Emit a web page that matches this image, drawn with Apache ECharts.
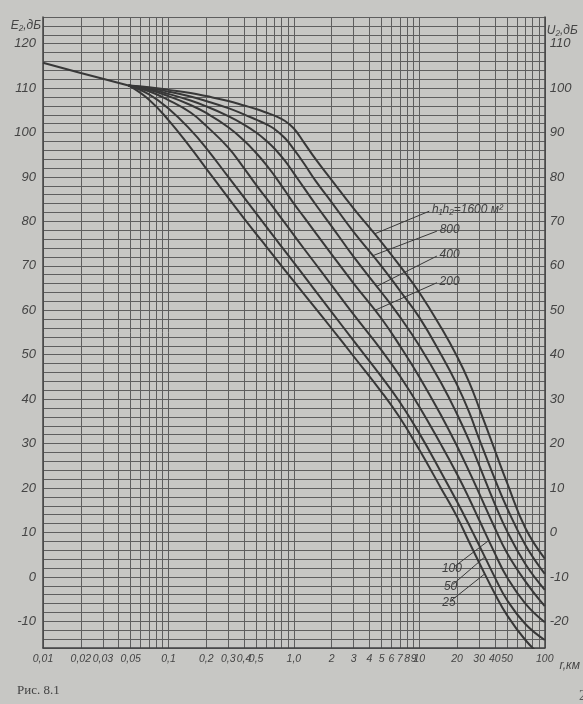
<!DOCTYPE html>
<html>
<head>
<meta charset="utf-8">
<script src="https://cdn.jsdelivr.net/npm/echarts@6.0.0/dist/echarts.min.js"></script>
<style>
  html, body { margin: 0; padding: 0; background: #c7c7c4; }
  #chart { width: 583px; height: 704px; }
</style>
</head>
<body>
<div id="chart"></div>
<script>
// common part of all curves (r, km -> E2, dB)
var commonDist = [0.01, 0.02, 0.03, 0.048]
var commonE = [115.7, 113.4, 112.1, 110.6]

// distances for the branches, km
var dist = [0.048, 0.07, 0.1, 0.15, 0.2, 0.3, 0.4, 0.5, 0.6, 0.7, 0.85, 1, 1.2, 1.5, 2, 3, 5, 7, 10, 15, 20, 25, 30, 40, 50, 70, 100]

// E2, dB for h1*h2 = 1600 ... 25 m2
var e1600 = [110.6, 110.2, 109.6, 108.9, 108.2, 107.1, 106.1, 105.3, 104.5, 103.8, 102.6, 100.9, 97.8, 93.9, 89.3, 82.9, 75.3, 70.0, 64.0, 56.0, 49.6, 43.8, 38.0, 28.5, 21.2, 11.0, 4.1]
var e800 = [110.6, 110.0, 109.2, 108.1, 107.1, 105.5, 104.1, 102.9, 101.9, 100.8, 98.7, 96.2, 93.1, 89.0, 84.3, 77.6, 69.9, 64.4, 58.4, 49.9, 43.2, 37.0, 31.0, 22.0, 15.5, 7.2, 0.7]
var e400 = [110.6, 109.8, 108.7, 107.2, 105.9, 103.7, 101.8, 100.0, 98.2, 96.4, 93.6, 90.8, 87.6, 83.7, 78.9, 72.0, 64.0, 58.5, 52.0, 43.5, 36.6, 30.6, 25.1, 16.4, 10.3, 2.9, -2.9]
var e200 = [110.6, 109.6, 108.2, 106.2, 104.4, 101.2, 98.2, 95.4, 92.8, 90.3, 86.9, 84.0, 81.0, 77.3, 72.6, 66.0, 58.1, 52.0, 45.0, 36.2, 29.4, 23.7, 18.8, 11.0, 5.4, -1.0, -6.6]
var e100 = [110.6, 109.3, 107.3, 104.5, 101.5, 96.6, 92.0, 88.2, 85.3, 82.8, 79.6, 76.9, 73.9, 70.3, 65.6, 59.0, 51.0, 45.2, 38.3, 29.6, 23.1, 17.6, 12.8, 5.3, -0.1, -6.0, -10.2]
var e50 = [110.6, 108.6, 105.4, 100.6, 96.5, 90.0, 85.4, 81.8, 78.9, 76.4, 73.3, 70.7, 67.8, 64.2, 59.6, 53.1, 45.0, 39.3, 32.3, 23.4, 16.9, 11.6, 7.1, -0.1, -5.2, -10.6, -14.2]
var e25 = [110.6, 107.4, 102.8, 96.6, 91.9, 85.3, 80.7, 77.2, 74.4, 72.0, 69.0, 66.5, 63.7, 60.3, 55.9, 49.6, 41.6, 35.8, 28.6, 19.8, 13.5, 7.8, 3.2, -3.8, -8.6, -14.2, -18.6]

var curveNames = ['h₁h₂=1600 м²', '800', '400', '200', '100', '50', '25']
// leader lines: point on the curve -> point at the label
var leaderFrom = [[4.4, 77.2], [4.27, 72.3], [4.58, 65.4], [4.43, 60.0], [35.8, 8.2], [33.3, 4.5], [33.3, 0.7]]
var leaderTo = [[12.0, 82.3], [13.8, 77.8], [13.8, 72.2], [13.8, 66.2], [19.0, 2.3], [18.5, -1.7], [18.0, -5.3]]

// grid lines and labels of the distance axis
var xGridValues = [0.01, 0.02, 0.03, 0.04, 0.05, 0.06, 0.07, 0.08, 0.09,
  0.1, 0.2, 0.3, 0.4, 0.5, 0.6, 0.7, 0.8, 0.9,
  1, 2, 3, 4, 5, 6, 7, 8, 9,
  10, 20, 30, 40, 50, 60, 70, 80, 90, 100]
var xLabelValues = [0.01, 0.02, 0.03, 0.05, 0.1, 0.2, 0.3, 0.4, 0.5, 1, 2, 3, 4, 5, 6, 7, 8, 9, 10, 20, 30, 40, 50, 100]

var curves = [e1600, e800, e400, e200, e100, e50, e25]

var font = '"Liberation Sans Narrow", "Liberation Sans", Arial, sans-serif'
var ink = '#383838'
var gridInk = '#5e5e5e'

var chart = echarts.init(document.getElementById('chart'))

var series = [{
  type: 'line',
  data: commonDist.map(function (d, i) { return [d, commonE[i]] }),
  showSymbol: false,
  lineStyle: { color: ink, width: 2 }
}]

curves.forEach(function (vals, i) {
  series.push({
    type: 'line',
    name: curveNames[i],
    data: dist.map(function (d, j) { return [d, vals[j]] }),
    showSymbol: false,
    smooth: 0.45,
    clip: true,
    lineStyle: { color: ink, width: 2 },
    markLine: {
      silent: true,
      symbol: ['none', 'none'],
      animation: false,
      lineStyle: { color: ink, width: 1, type: 'solid' },
      label: {
        show: true,
        position: 'end',
        distance: 3,
        formatter: curveNames[i],
        color: '#404040',
        fontStyle: 'italic',
        fontFamily: font,
        fontSize: 12
      },
      data: [[{ coord: leaderFrom[i] }, { coord: leaderTo[i] }]]
    }
  })
})

chart.setOption({
  animation: false,
  backgroundColor: '#c7c7c4',
  title: [{
    text: 'Рис. 8.1',
    left: 12,
    top: 679,
    textStyle: { fontFamily: '"Liberation Serif", serif', fontSize: 13, fontWeight: 'normal', color: '#444' }
  }, {
    text: '27',
    left: 574,
    top: 684,
    textStyle: { fontFamily: '"Liberation Serif", serif', fontSize: 14, fontWeight: 'normal', color: '#555' }
  }],
  grid: { left: 43, right: 32, top: 17, bottom: 56 },
  xAxis: {
    type: 'log',
    logBase: 10,
    min: 0.01,
    max: 100,
    name: 'r,км',
    nameLocation: 'end',
    nameGap: 9,
    nameTextStyle: { color: '#444', fontStyle: 'italic', fontFamily: font, fontSize: 12, verticalAlign: 'top', padding: [12, 0, 0, 0] },
    axisLine: { show: true, onZero: false, lineStyle: { color: '#444', width: 1.5 } },
    axisTick: { show: false, customValues: xGridValues },
    splitLine: { show: true, lineStyle: { color: gridInk, width: 1 } },
    axisLabel: {
      customValues: xLabelValues,
      margin: 6,
      color: '#444',
      fontStyle: 'italic',
      fontFamily: font,
      fontSize: 10.5,
      formatter: function (v) {
        if (v < 1) return String(v).replace('.', ',')
        if (v === 1) return '1,0'
        return String(v)
      }
    }
  },
  yAxis: [{
    type: 'value',
    min: -16,
    max: 126,
    interval: 2,
    name: 'E₂,дБ',
    nameLocation: 'end',
    nameGap: -3,
    nameTextStyle: { color: '#444', fontStyle: 'italic', fontFamily: font, fontSize: 12, align: 'right', verticalAlign: 'top', padding: [0, 2, 0, 0] },
    axisLine: { show: true, lineStyle: { color: '#444', width: 1.5 } },
    axisTick: { show: false },
    splitLine: { show: true, lineStyle: { color: gridInk, width: 1 } },
    axisLabel: {
      margin: 7,
      color: '#444',
      fontStyle: 'italic',
      fontFamily: font,
      fontSize: 13,
      formatter: function (v) {
        return (v % 10 === 0 && v >= -10 && v <= 120) ? String(v) : ''
      }
    }
  }, {
    type: 'value',
    position: 'right',
    min: -26,
    max: 116,
    interval: 2,
    name: 'U₂,дБ',
    nameLocation: 'end',
    nameGap: -8,
    nameTextStyle: { color: '#444', fontStyle: 'italic', fontFamily: font, fontSize: 12, align: 'left', verticalAlign: 'top', padding: [0, 0, 0, 2] },
    axisLine: { show: true, lineStyle: { color: '#444', width: 1.5 } },
    axisTick: { show: false },
    splitLine: { show: false },
    axisLabel: {
      margin: 5,
      color: '#444',
      fontStyle: 'italic',
      fontFamily: font,
      fontSize: 13,
      formatter: function (v) {
        return (v % 10 === 0 && v >= -20 && v <= 110) ? String(v) : ''
      }
    }
  }],
  series: series
})
</script>
</body>
</html>
